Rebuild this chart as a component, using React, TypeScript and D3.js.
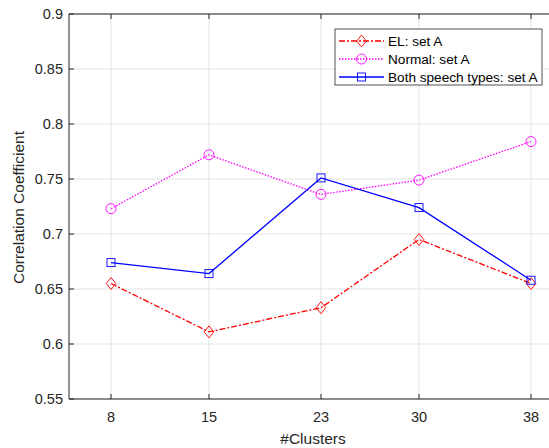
import React from "react";
import * as d3 from "d3";

const clusters = [8, 15, 23, 30, 38];
const elSetA = [0.655, 0.611, 0.633, 0.695, 0.655];
const normalSetA = [0.723, 0.772, 0.736, 0.749, 0.784];
const bothSetA = [0.674, 0.664, 0.751, 0.724, 0.658];
const yTicks = [0.55, 0.6, 0.65, 0.7, 0.75, 0.8, 0.85, 0.9];
const seriesNames = ["EL: set A", "Normal: set A", "Both speech types: set A"];

const W = 549, H = 448;
const L = 69, T = 14, B = 399;
const FONT = "'Liberation Sans', Arial, Helvetica, sans-serif";

export default function App() {
  const x = d3.scaleLinear().domain([5, 41]).range([L, L + 36 * 14]);
  const y = d3.scaleLinear().domain([0.55, 0.9]).range([B, T]);
  const line = d3.line<number>().x((_, i) => x(clusters[i])).y((d) => y(d));
  const axisColor = "#262626";
  const grid = "#e3e3e3";

  const series = [
    { name: seriesNames[0], data: elSetA, color: "#ff0000", dash: "6,2,2,2", marker: "diamond" },
    { name: seriesNames[1], data: normalSetA, color: "#ff00ff", dash: "1.5,1.5", marker: "circle" },
    { name: seriesNames[2], data: bothSetA, color: "#0000ff", dash: "", marker: "square" },
  ];

  const marker = (type: string, cx: number, cy: number, color: string, key: any) => {
    if (type === "diamond") {
      const r = 6;
      return <path key={key} d={`M${cx},${cy - r}L${cx + r * 0.8},${cy}L${cx},${cy + r}L${cx - r * 0.8},${cy}Z`} fill="none" stroke={color} strokeWidth={0.9} />;
    }
    if (type === "circle") {
      return <circle key={key} cx={cx} cy={cy} r={5} fill="none" stroke={color} strokeWidth={0.9} />;
    }
    return <rect key={key} x={cx - 4} y={cy - 4} width={8} height={8} fill="none" stroke={color} strokeWidth={0.9} />;
  };

  const xRight = W;
  return (
    <svg width={W} height={H} style={{ position: "absolute", left: 0, top: 0, background: "#fff" }} fontFamily={FONT}>
      <rect x={0} y={0} width={W} height={H} fill="#fff" />
      {clusters.map((c) => (
        <line key={"gx" + c} x1={x(c)} x2={x(c)} y1={T} y2={B} stroke={grid} strokeWidth={1} />
      ))}
      {yTicks.map((t) => (
        <line key={"gy" + t} x1={L} x2={xRight} y1={y(t)} y2={y(t)} stroke={grid} strokeWidth={1} />
      ))}
      <line x1={L} x2={xRight} y1={B} y2={B} stroke={axisColor} strokeWidth={1} />
      <line x1={L} x2={xRight} y1={T} y2={T} stroke={axisColor} strokeWidth={1} />
      <line x1={L} x2={L} y1={T} y2={B} stroke={axisColor} strokeWidth={1} />
      {clusters.map((c) => (
        <g key={"xt" + c}>
          <line x1={x(c)} x2={x(c)} y1={B} y2={B - 5} stroke={axisColor} />
          <line x1={x(c)} x2={x(c)} y1={T} y2={T + 5} stroke={axisColor} />
          <text x={x(c)} y={B + 22.5} textAnchor="middle" fontSize={14.5} fill={axisColor}>{c}</text>
        </g>
      ))}
      {yTicks.map((t) => (
        <g key={"yt" + t}>
          <line x1={L} x2={L + 5} y1={y(t)} y2={y(t)} stroke={axisColor} />
          <text x={L - 6} y={y(t) + 5} textAnchor="end" fontSize={14.5} fill={axisColor}>{d3.format("")(t)}</text>
        </g>
      ))}
      <text x={313} y={444} textAnchor="middle" fontSize={15.5} fill={axisColor}>#Clusters</text>
      <text transform={`translate(24,${(T + B) / 2 + 1}) rotate(-90)`} textAnchor="middle" fontSize={15.5} fill={axisColor}>Correlation Coefficient</text>
      {series.map((s, si) => (
        <g key={"s" + si}>
          <path d={line(s.data) || ""} fill="none" stroke={s.color} strokeWidth={1.3} strokeDasharray={s.dash || undefined} />
          {s.data.map((v, i) => marker(s.marker, x(clusters[i]), y(v), s.color, i))}
        </g>
      ))}
      <g>
        <rect x={335} y={29} width={207} height={56} fill="#fff" stroke={axisColor} strokeWidth={0.8} />
        {series.map((s, i) => {
          const ly = 41 + i * 18;
          return (
            <g key={"lg" + i}>
              <line x1={339} x2={384} y1={ly} y2={ly} stroke={s.color} strokeWidth={1.3} strokeDasharray={s.dash || undefined} />
              {marker(s.marker, 361.5, ly, s.color, "m")}
              <text x={388} y={ly + 5} fontSize={13.6} fill="#000">{s.name}</text>
            </g>
          );
        })}
      </g>
    </svg>
  );
}
